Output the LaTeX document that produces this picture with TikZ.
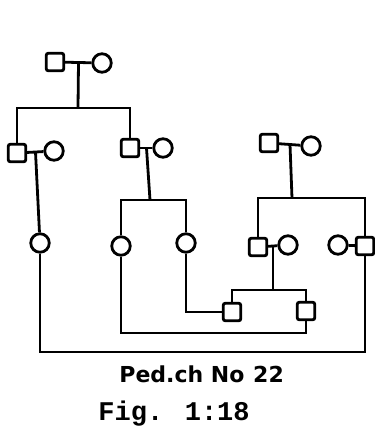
\documentclass[tikz,border=0pt]{standalone}
\usepackage{fontspec}
\newfontfamily\pedfont{DejaVu Sans}
\newfontfamily\figfont{Liberation Mono}
\usetikzlibrary{calc}
\begin{document}
\begin{tikzpicture}
  [x=1pt,y=-1pt,line width=2.8pt,
   male/.style={draw,rectangle,rounded corners=2pt,minimum size=17.5pt,inner sep=0pt},
   female/.style={draw,circle,minimum size=18.5pt,inner sep=0pt},
   caption/.style={anchor=base west,inner sep=0pt}]
 \useasboundingbox (0,0) rectangle (375,426);
 % generation I
 \node[male] (i1) at (55,62) {};
 \node[female] (i2) at (102,63) {};
 % generation II
 \node[male] (ii1) at (17,153) {};
 \node[female] (ii2) at (54,151) {};
 \node[male] (ii3) at (130,148) {};
 \node[female] (ii4) at (163,148) {};
 \node[male] (ii5) at (269,143) {};
 \node[female] (ii6) at (311,146) {};
 % generation III
 \node[female] (iii1) at (40,243) {};
 \node[female] (iii2) at (121,246) {};
 \node[female] (iii3) at (186,243) {};
 \node[male] (iii4) at (258,247) {};
 \node[female] (iii5) at (288,245) {};
 \node[female] (iii6) at (338,245) {};
 \node[male] (iii7) at (365,246) {};
 % generation IV
 \node[male] (iv1) at (232,312) {};
 \node[male] (iv2) at (306,311) {};

 \coordinate (s1) at (78,108);
 \coordinate (s2) at (150,200);
 \coordinate (s3) at (292,198);
 \coordinate (s4) at (273,290);
 \coordinate (b1) at (0,352);
 \coordinate (b2) at (0,333);

 % marriages
 \foreach \a/\b in {i1/i2,ii1/ii2,ii3/ii4,ii5/ii6,iii4/iii5,iii6/iii7}
   \draw (\a) -- (\b);
 % descent lines
 \foreach \a/\b/\s in {i1/i2/s1,ii3/ii4/s2,ii5/ii6/s3,iii4/iii5/s4}
   \draw ($(\a)!.5!(\b)$) -- (\s);
 \draw ($(ii1)!.5!(ii2)$) -- (iii1);
 % sibships
 \draw (ii1) |- (s1) -| (ii3);
 \draw (iii2) |- (s2) -| (iii3);
 \draw (iii4) |- (s3) -| (iii7);
 \draw (iv1) |- (s4) -| (iv2);
 % consanguinity loops
 \draw (iii1) -- (iii1 |- b1) -| (iii7);
 \draw (iii2) -- (iii2 |- b2) -| (iv2);
 \draw (iii3) |- (iv1);

 \node[caption] (ped) at (118,382) {\fontsize{22}{22}\selectfont\pedfont\bfseries Ped.ch No\hspace{.4em}22};
 \node[caption] (fig) at (97,420) {\fontsize{27}{27}\selectfont\figfont\bfseries Fig. 1:18};
\end{tikzpicture}
\end{document}
